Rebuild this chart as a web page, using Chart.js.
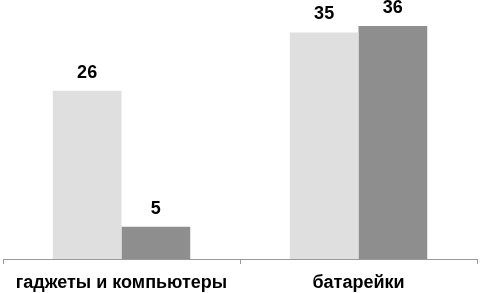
<!DOCTYPE html>
<html>
<head>
<meta charset="utf-8">
<script src="https://cdn.jsdelivr.net/npm/chart.js@4"></script>
<style>
html,body{margin:0;padding:0;background:#fff;}
#wrap{width:480px;height:293px;position:relative;}
</style>
</head>
<body>
<div id="wrap"><canvas id="c" width="480" height="293"></canvas></div>
<script>
const categories = ["гаджеты и компьютеры", "батарейки"];
const seriesA = [26, 35];
const seriesB = [5, 36];

const valueLabels = {
  id: 'valueLabels',
  afterDatasetsDraw(chart) {
    const ctx = chart.ctx;
    ctx.save();
    ctx.font = 'bold 18px "Liberation Sans", Arial, sans-serif';
    ctx.fillStyle = '#000';
    ctx.textAlign = 'center';
    ctx.textBaseline = 'alphabetic';
    chart.data.datasets.forEach((ds, i) => {
      const meta = chart.getDatasetMeta(i);
      meta.data.forEach((bar, j) => {
        ctx.fillText(String(ds.data[j]), bar.x, bar.y - 13);
      });
    });
    ctx.restore();
  }
};

new Chart(document.getElementById('c'), {
  type: 'bar',
  data: {
    labels: categories,
    datasets: [
      { data: seriesA, backgroundColor: '#dfdfdf', borderWidth: 0 },
      { data: seriesB, backgroundColor: '#8e8e8e', borderWidth: 0 }
    ]
  },
  options: {
    responsive: false,
    animation: false,
    devicePixelRatio: 1,
    layout: { padding: { left: 3, right: 3, top: 0, bottom: 0 } },
    plugins: { legend: { display: false }, tooltip: { enabled: false } },
    datasets: { bar: { categoryPercentage: 0.58, barPercentage: 1.0 } },
    scales: {
      y: { display: false, min: 0, max: 40 },
      x: {
        afterFit(scale) { scale.height = 34; },
        border: { display: true, color: '#9a9a9a', width: 1 },
        grid: { display: true, offset: true, drawOnChartArea: false, drawTicks: true, tickLength: 5, color: '#9a9a9a' },
        ticks: {
          color: '#000',
          padding: 8,
          maxRotation: 0,
          autoSkip: false,
          font: { family: '"Liberation Sans", Arial, sans-serif', size: 18, weight: 'bold' }
        }
      }
    }
  },
  plugins: [valueLabels]
});
</script>
</body>
</html>
